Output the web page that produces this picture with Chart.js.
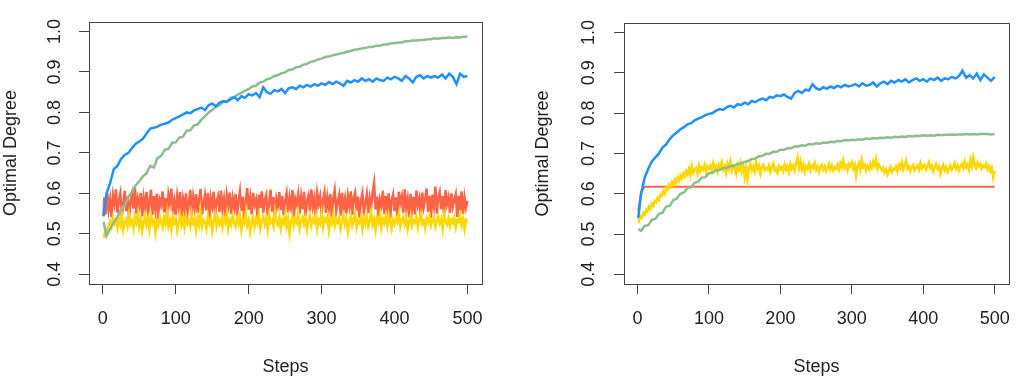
<!DOCTYPE html>
<html>
<head>
<meta charset="utf-8">
<script src="https://cdn.jsdelivr.net/npm/chart.js@4.4.1/dist/chart.umd.min.js"></script>
<style>
html, body { margin: 0; padding: 0; background: #fff; }
#wrap { position: relative; width: 1024px; height: 383px; }
.panel { position: absolute; top: 0; width: 512px; height: 383px; }
</style>
</head>
<body>
<div id="wrap">
  <div class="panel" style="left:0"><canvas id="chartLeft" width="512" height="383"></canvas></div>
  <div class="panel" style="left:512px"><canvas id="chartRight" width="512" height="383"></canvas></div>
</div>
<script>
// steps sampled every 5 for the smoother curves
const steps = [1,
  5, 10, 15, 20, 25, 30, 35, 40, 45, 50,
  55, 60, 65, 70, 75, 80, 85, 90, 95, 100,
  105, 110, 115, 120, 125, 130, 135, 140, 145, 150,
  155, 160, 165, 170, 175, 180, 185, 190, 195, 200,
  205, 210, 215, 220, 225, 230, 235, 240, 245, 250,
  255, 260, 265, 270, 275, 280, 285, 290, 295, 300,
  305, 310, 315, 320, 325, 330, 335, 340, 345, 350,
  355, 360, 365, 370, 375, 380, 385, 390, 395, 400,
  405, 410, 415, 420, 425, 430, 435, 440, 445, 450,
  455, 460, 465, 470, 475, 480, 485, 490, 495, 500];

// steps sampled every 2 for the noisy bands
const stepsDense = [1,
  2, 4, 6, 8, 10, 12, 14, 16, 18, 20,
  22, 24, 26, 28, 30, 32, 34, 36, 38, 40,
  42, 44, 46, 48, 50, 52, 54, 56, 58, 60,
  62, 64, 66, 68, 70, 72, 74, 76, 78, 80,
  82, 84, 86, 88, 90, 92, 94, 96, 98, 100,
  102, 104, 106, 108, 110, 112, 114, 116, 118, 120,
  122, 124, 126, 128, 130, 132, 134, 136, 138, 140,
  142, 144, 146, 148, 150, 152, 154, 156, 158, 160,
  162, 164, 166, 168, 170, 172, 174, 176, 178, 180,
  182, 184, 186, 188, 190, 192, 194, 196, 198, 200,
  202, 204, 206, 208, 210, 212, 214, 216, 218, 220,
  222, 224, 226, 228, 230, 232, 234, 236, 238, 240,
  242, 244, 246, 248, 250, 252, 254, 256, 258, 260,
  262, 264, 266, 268, 270, 272, 274, 276, 278, 280,
  282, 284, 286, 288, 290, 292, 294, 296, 298, 300,
  302, 304, 306, 308, 310, 312, 314, 316, 318, 320,
  322, 324, 326, 328, 330, 332, 334, 336, 338, 340,
  342, 344, 346, 348, 350, 352, 354, 356, 358, 360,
  362, 364, 366, 368, 370, 372, 374, 376, 378, 380,
  382, 384, 386, 388, 390, 392, 394, 396, 398, 400,
  402, 404, 406, 408, 410, 412, 414, 416, 418, 420,
  422, 424, 426, 428, 430, 432, 434, 436, 438, 440,
  442, 444, 446, 448, 450, 452, 454, 456, 458, 460,
  462, 464, 466, 468, 470, 472, 474, 476, 478, 480,
  482, 484, 486, 488, 490, 492, 494, 496, 498, 500];

const xTicks = [0, 100, 200, 300, 400, 500];
const yTicks = [0.4, 0.5, 0.6, 0.7, 0.8, 0.9, 1.0];

// left panel
const leftBlue = [0.543,
  0.600, 0.625, 0.660, 0.668, 0.685, 0.695, 0.700, 0.712, 0.722, 0.728,
  0.735, 0.748, 0.760, 0.762, 0.765, 0.770, 0.772, 0.775, 0.782, 0.786,
  0.790, 0.795, 0.800, 0.798, 0.805, 0.808, 0.812, 0.806, 0.818, 0.822,
  0.815, 0.824, 0.828, 0.826, 0.832, 0.838, 0.830, 0.840, 0.836, 0.845,
  0.842, 0.848, 0.838, 0.862, 0.850, 0.846, 0.855, 0.852, 0.858, 0.848,
  0.860, 0.862, 0.858, 0.866, 0.862, 0.868, 0.864, 0.870, 0.866, 0.872,
  0.868, 0.875, 0.870, 0.876, 0.872, 0.866, 0.878, 0.874, 0.880, 0.876,
  0.884, 0.878, 0.882, 0.876, 0.884, 0.880, 0.878, 0.886, 0.882, 0.888,
  0.884, 0.878, 0.890, 0.884, 0.874, 0.888, 0.892, 0.884, 0.890, 0.886,
  0.890, 0.886, 0.894, 0.884, 0.896, 0.888, 0.870, 0.896, 0.888, 0.890];

const leftGreen = [0.530,
  0.495, 0.512, 0.528, 0.542, 0.562, 0.570, 0.592, 0.603, 0.620, 0.630,
  0.642, 0.650, 0.668, 0.664, 0.688, 0.692, 0.708, 0.710, 0.725, 0.726,
  0.738, 0.740, 0.755, 0.756, 0.768, 0.770, 0.782, 0.790, 0.800, 0.806,
  0.814, 0.818, 0.826, 0.828, 0.836, 0.838, 0.844, 0.848, 0.854, 0.858,
  0.864, 0.866, 0.874, 0.876, 0.882, 0.884, 0.890, 0.892, 0.897, 0.899,
  0.905, 0.906, 0.912, 0.913, 0.918, 0.920, 0.925, 0.927, 0.931, 0.933,
  0.937, 0.938, 0.941, 0.943, 0.946, 0.947, 0.950, 0.952, 0.955, 0.956,
  0.958, 0.959, 0.962, 0.962, 0.965, 0.965, 0.968, 0.968, 0.971, 0.971,
  0.973, 0.973, 0.976, 0.976, 0.978, 0.978, 0.979, 0.979, 0.981, 0.981,
  0.983, 0.982, 0.984, 0.984, 0.985, 0.984, 0.986, 0.985, 0.987, 0.987];

// on stepsDense
const leftRed = [0.545,
  0.590, 0.548, 0.602, 0.560, 0.585, 0.541, 0.596, 0.575, 0.610, 0.552,
  0.583, 0.600, 0.545, 0.571, 0.606, 0.556, 0.592, 0.538, 0.580, 0.598,
  0.562, 0.615, 0.549, 0.587, 0.570, 0.601, 0.543, 0.590, 0.566, 0.604,
  0.551, 0.578, 0.609, 0.547, 0.593, 0.561, 0.599, 0.537, 0.584, 0.572,
  0.605, 0.553, 0.588, 0.542, 0.597, 0.576, 0.612, 0.558, 0.581, 0.546,
  0.594, 0.568, 0.603, 0.540, 0.586, 0.562, 0.600, 0.550, 0.577, 0.608,
  0.544, 0.591, 0.565, 0.598, 0.552, 0.583, 0.611, 0.548, 0.574, 0.596,
  0.558, 0.601, 0.539, 0.589, 0.569, 0.604, 0.547, 0.580, 0.593, 0.554,
  0.607, 0.563, 0.586, 0.541, 0.595, 0.571, 0.602, 0.549, 0.588, 0.566,
  0.599, 0.543, 0.582, 0.606, 0.557, 0.592, 0.536, 0.579, 0.613, 0.560,
  0.590, 0.548, 0.601, 0.572, 0.585, 0.540, 0.597, 0.564, 0.605, 0.551,
  0.583, 0.596, 0.545, 0.578, 0.609, 0.555, 0.591, 0.538, 0.587, 0.570,
  0.603, 0.559, 0.594, 0.546, 0.581, 0.600, 0.553, 0.589, 0.567, 0.608,
  0.542, 0.586, 0.573, 0.598, 0.550, 0.592, 0.561, 0.604, 0.544, 0.582,
  0.595, 0.556, 0.610, 0.568, 0.588, 0.539, 0.600, 0.575, 0.593, 0.548,
  0.584, 0.603, 0.552, 0.590, 0.565, 0.598, 0.541, 0.587, 0.608, 0.557,
  0.579, 0.596, 0.545, 0.601, 0.562, 0.586, 0.550, 0.594, 0.570, 0.605,
  0.547, 0.589, 0.602, 0.558, 0.592, 0.540, 0.583, 0.600, 0.553, 0.576,
  0.598, 0.551, 0.588, 0.566, 0.603, 0.626, 0.560, 0.592, 0.544, 0.585,
  0.571, 0.606, 0.549, 0.594, 0.563, 0.600, 0.538, 0.582, 0.597, 0.556,
  0.590, 0.545, 0.604, 0.577, 0.593, 0.552, 0.610, 0.565, 0.586, 0.541,
  0.599, 0.560, 0.591, 0.548, 0.607, 0.572, 0.588, 0.543, 0.602, 0.566,
  0.585, 0.612, 0.554, 0.594, 0.539, 0.597, 0.570, 0.617, 0.550, 0.589,
  0.603, 0.561, 0.593, 0.545, 0.608, 0.574, 0.590, 0.552, 0.600, 0.567,
  0.584, 0.598, 0.542, 0.594, 0.558, 0.605, 0.549, 0.590, 0.565, 0.582];

// on stepsDense
const leftYellow = [0.490,
  0.495, 0.512, 0.505, 0.522, 0.530, 0.518, 0.540, 0.525, 0.532, 0.515,
  0.538, 0.522, 0.545, 0.510, 0.528, 0.536, 0.519, 0.548, 0.524, 0.533,
  0.514, 0.541, 0.527, 0.550, 0.517, 0.535, 0.508, 0.529, 0.544, 0.521,
  0.537, 0.512, 0.546, 0.526, 0.533, 0.503, 0.531, 0.520, 0.543, 0.528,
  0.516, 0.539, 0.524, 0.552, 0.519, 0.534, 0.511, 0.541, 0.527, 0.536,
  0.509, 0.530, 0.547, 0.522, 0.538, 0.515, 0.544, 0.525, 0.533, 0.518,
  0.549, 0.527, 0.536, 0.510, 0.540, 0.523, 0.556, 0.519, 0.534, 0.529,
  0.512, 0.545, 0.526, 0.537, 0.507, 0.531, 0.548, 0.520, 0.539, 0.524,
  0.535, 0.516, 0.542, 0.528, 0.550, 0.513, 0.533, 0.522, 0.546, 0.530,
  0.518, 0.539, 0.525, 0.544, 0.510, 0.536, 0.527, 0.552, 0.521, 0.534,
  0.505, 0.529, 0.541, 0.517, 0.538, 0.526, 0.548, 0.514, 0.532, 0.543,
  0.523, 0.537, 0.511, 0.546, 0.528, 0.535, 0.519, 0.555, 0.530, 0.522,
  0.540, 0.513, 0.534, 0.526, 0.549, 0.518, 0.538, 0.502, 0.531, 0.544,
  0.520, 0.536, 0.527, 0.551, 0.515, 0.533, 0.542, 0.524, 0.539, 0.510,
  0.532, 0.547, 0.521, 0.537, 0.529, 0.545, 0.512, 0.535, 0.526, 0.550,
  0.517, 0.538, 0.530, 0.543, 0.509, 0.534, 0.525, 0.548, 0.519, 0.536,
  0.528, 0.541, 0.514, 0.532, 0.546, 0.523, 0.537, 0.506, 0.530, 0.544,
  0.521, 0.535, 0.549, 0.516, 0.533, 0.527, 0.542, 0.513, 0.538, 0.525,
  0.544, 0.518, 0.531, 0.553, 0.522, 0.536, 0.510, 0.540, 0.528, 0.547,
  0.515, 0.537, 0.526, 0.542, 0.520, 0.548, 0.531, 0.512, 0.535, 0.524,
  0.539, 0.529, 0.550, 0.518, 0.534, 0.543, 0.522, 0.537, 0.511, 0.530,
  0.546, 0.520, 0.533, 0.527, 0.541, 0.516, 0.536, 0.549, 0.525, 0.532,
  0.514, 0.538, 0.528, 0.545, 0.521, 0.534, 0.540, 0.517, 0.531, 0.543,
  0.526, 0.537, 0.512, 0.548, 0.530, 0.523, 0.539, 0.519, 0.535, 0.527,
  0.541, 0.516, 0.533, 0.529, 0.546, 0.521, 0.537, 0.512, 0.534, 0.528];

// right panel
const rightBlue = [0.540,
  0.600, 0.640, 0.662, 0.680, 0.690, 0.700, 0.715, 0.722, 0.735, 0.745,
  0.752, 0.760, 0.765, 0.772, 0.775, 0.782, 0.786, 0.790, 0.795, 0.798,
  0.800, 0.806, 0.810, 0.808, 0.815, 0.818, 0.814, 0.822, 0.820, 0.826,
  0.822, 0.830, 0.827, 0.833, 0.836, 0.832, 0.840, 0.838, 0.844, 0.842,
  0.846, 0.840, 0.836, 0.850, 0.855, 0.850, 0.858, 0.856, 0.872, 0.862,
  0.858, 0.864, 0.860, 0.866, 0.862, 0.868, 0.864, 0.870, 0.866, 0.868,
  0.872, 0.866, 0.874, 0.868, 0.870, 0.876, 0.866, 0.874, 0.878, 0.872,
  0.880, 0.876, 0.882, 0.878, 0.884, 0.876, 0.882, 0.886, 0.880, 0.884,
  0.878, 0.886, 0.882, 0.888, 0.880, 0.886, 0.884, 0.890, 0.886, 0.892,
  0.905, 0.888, 0.894, 0.886, 0.898, 0.882, 0.896, 0.888, 0.880, 0.890];

const rightGreen = [0.512,
  0.508, 0.520, 0.522, 0.535, 0.538, 0.550, 0.553, 0.568, 0.570, 0.584,
  0.588, 0.600, 0.603, 0.614, 0.616, 0.627, 0.630, 0.640, 0.641, 0.651,
  0.652, 0.658, 0.659, 0.664, 0.664, 0.669, 0.669, 0.674, 0.675, 0.679,
  0.681, 0.686, 0.687, 0.693, 0.694, 0.699, 0.699, 0.704, 0.704, 0.709,
  0.709, 0.713, 0.713, 0.717, 0.717, 0.720, 0.719, 0.723, 0.722, 0.725,
  0.724, 0.727, 0.726, 0.729, 0.728, 0.731, 0.730, 0.733, 0.732, 0.734,
  0.733, 0.735, 0.734, 0.737, 0.736, 0.738, 0.737, 0.739, 0.738, 0.740,
  0.739, 0.741, 0.740, 0.742, 0.741, 0.743, 0.742, 0.744, 0.743, 0.745,
  0.744, 0.745, 0.744, 0.746, 0.745, 0.746, 0.746, 0.747, 0.746, 0.747,
  0.747, 0.748, 0.747, 0.748, 0.747, 0.748, 0.748, 0.748, 0.747, 0.748];

// on stepsDense
const rightYellow = [0.530,
  0.535, 0.545, 0.540, 0.552, 0.548, 0.560, 0.556, 0.568, 0.562, 0.575,
  0.570, 0.582, 0.578, 0.590, 0.585, 0.598, 0.594, 0.606, 0.600, 0.615,
  0.610, 0.622, 0.616, 0.628, 0.621, 0.634, 0.626, 0.640, 0.632, 0.645,
  0.638, 0.650, 0.642, 0.656, 0.648, 0.662, 0.646, 0.668, 0.652, 0.660,
  0.664, 0.650, 0.670, 0.656, 0.666, 0.660, 0.672, 0.654, 0.668, 0.662,
  0.670, 0.658, 0.676, 0.662, 0.668, 0.655, 0.672, 0.664, 0.678, 0.660,
  0.668, 0.652, 0.674, 0.661, 0.680, 0.658, 0.670, 0.664, 0.650, 0.672,
  0.660, 0.676, 0.655, 0.668, 0.642, 0.665, 0.636, 0.662, 0.674, 0.658,
  0.668, 0.655, 0.678, 0.662, 0.670, 0.650, 0.666, 0.672, 0.658, 0.664,
  0.660, 0.670, 0.654, 0.666, 0.675, 0.658, 0.662, 0.652, 0.668, 0.660,
  0.666, 0.656, 0.672, 0.660, 0.668, 0.654, 0.674, 0.662, 0.670, 0.658,
  0.676, 0.690, 0.664, 0.680, 0.660, 0.672, 0.655, 0.668, 0.662, 0.674,
  0.658, 0.670, 0.664, 0.676, 0.660, 0.668, 0.654, 0.666, 0.672, 0.660,
  0.668, 0.656, 0.664, 0.674, 0.660, 0.670, 0.658, 0.666, 0.662, 0.672,
  0.660, 0.676, 0.666, 0.682, 0.664, 0.670, 0.658, 0.674, 0.668, 0.678,
  0.662, 0.672, 0.645, 0.668, 0.676, 0.660, 0.684, 0.666, 0.672, 0.658,
  0.668, 0.660, 0.674, 0.664, 0.680, 0.670, 0.686, 0.662, 0.672, 0.666,
  0.658, 0.664, 0.652, 0.660, 0.648, 0.658, 0.666, 0.654, 0.662, 0.660,
  0.668, 0.656, 0.672, 0.664, 0.678, 0.660, 0.670, 0.682, 0.662, 0.668,
  0.656, 0.666, 0.672, 0.658, 0.664, 0.670, 0.660, 0.676, 0.662, 0.668,
  0.672, 0.660, 0.668, 0.678, 0.664, 0.670, 0.656, 0.666, 0.674, 0.662,
  0.668, 0.650, 0.664, 0.672, 0.658, 0.666, 0.654, 0.662, 0.670, 0.660,
  0.666, 0.676, 0.662, 0.670, 0.658, 0.668, 0.674, 0.664, 0.680, 0.666,
  0.672, 0.660, 0.684, 0.668, 0.690, 0.672, 0.664, 0.678, 0.668, 0.674,
  0.662, 0.670, 0.666, 0.674, 0.660, 0.668, 0.656, 0.664, 0.640, 0.656];

const rightRed = [0.557,
  0.605, 0.617, 0.617, 0.617, 0.617, 0.617, 0.617, 0.617, 0.617, 0.617,
  0.617, 0.617, 0.617, 0.617, 0.617, 0.617, 0.617, 0.617, 0.617, 0.617,
  0.617, 0.617, 0.617, 0.617, 0.617, 0.617, 0.617, 0.617, 0.617, 0.617,
  0.617, 0.617, 0.617, 0.617, 0.617, 0.617, 0.617, 0.617, 0.617, 0.617,
  0.617, 0.617, 0.617, 0.617, 0.617, 0.617, 0.617, 0.617, 0.617, 0.617,
  0.617, 0.617, 0.617, 0.617, 0.617, 0.617, 0.617, 0.617, 0.617, 0.617,
  0.617, 0.617, 0.617, 0.617, 0.617, 0.617, 0.617, 0.617, 0.617, 0.617,
  0.617, 0.617, 0.617, 0.617, 0.617, 0.617, 0.617, 0.617, 0.617, 0.617,
  0.617, 0.617, 0.617, 0.617, 0.617, 0.617, 0.617, 0.617, 0.617, 0.617,
  0.617, 0.617, 0.617, 0.617, 0.617, 0.617, 0.617, 0.617, 0.617, 0.617];

const textColor = '#222';
const axisColor = '#444';

Chart.defaults.font.family = '"Liberation Sans", Arial, sans-serif';
Chart.defaults.font.size = 18;
Chart.defaults.color = textColor;

// R-style box around the plotting region
const boxPlugin = {
  id: 'box',
  afterDraw(chart) {
    const a = chart.chartArea, ctx = chart.ctx;
    ctx.save();
    ctx.strokeStyle = axisColor;
    ctx.lineWidth = 1;
    ctx.strokeRect(Math.round(a.left) + 0.5, Math.round(a.top) + 0.5,
      Math.round(a.right - a.left), Math.round(a.bottom - a.top));
    ctx.restore();
  }
};

function line(xs, vals, color, width) {
  return {
    data: xs.map((s, i) => ({ x: s, y: vals[i] })),
    borderColor: color,
    borderWidth: width,
    pointRadius: 0,
    tension: 0,
    fill: false
  };
}

function makePanel(id, series, geo) {
  new Chart(document.getElementById(id), {
    type: 'line',
    data: {
      // first dataset is painted on top
      datasets: [
        line(steps, series.blue, '#1E90FF', 2.5),
        line(steps, series.green, '#8FBC8F', 2.5),
        line(series.yellowX, series.yellow, '#FFD700', 2.5),
        line(series.redX, series.red, '#FF6347', geo.redWidth)
      ]
    },
    plugins: [boxPlugin],
    options: {
      responsive: false,
      animation: false,
      events: [],
      layout: { padding: { top: 10, right: geo.padRight, left: 0, bottom: 0 } },
      plugins: { legend: { display: false }, tooltip: { enabled: false } },
      scales: {
        x: {
          type: 'linear',
          min: -18.96,
          max: 519.96,
          afterBuildTicks: s => { s.ticks = xTicks.map(v => ({ value: v })); },
          afterFit: s => { s.height = 99; },
          border: { display: false },
          grid: { drawOnChartArea: false, drawTicks: true, tickLength: 10, color: axisColor },
          ticks: { padding: 14, color: textColor, maxRotation: 0 },
          title: { display: true, text: 'Steps', color: textColor, padding: { top: 0, bottom: 5 } }
        },
        y: {
          type: 'linear',
          min: 0.376,
          max: 1.024,
          afterBuildTicks: s => { s.ticks = yTicks.map(v => ({ value: v })); },
          afterFit: s => { s.width = geo.yWidth; },
          border: { display: false },
          grid: { drawOnChartArea: false, drawTicks: true, tickLength: 10, color: axisColor },
          ticks: {
            minRotation: 90, maxRotation: 90, crossAlign: 'center',
            padding: geo.yTickPad, color: textColor,
            callback: v => v.toFixed(1)
          },
          title: { display: true, text: 'Optimal Degree', color: textColor, padding: { top: geo.yTitlePad, bottom: 0 } }
        }
      }
    }
  });
}

makePanel('chartLeft',
  { blue: leftBlue, green: leftGreen, yellow: leftYellow, yellowX: stepsDense, red: leftRed, redX: stepsDense },
  { yWidth: 89, padRight: 30, yTickPad: 11, yTitlePad: 0, redWidth: 2.5 });

makePanel('chartRight',
  { blue: rightBlue, green: rightGreen, yellow: rightYellow, yellowX: stepsDense, red: rightRed, redX: steps },
  { yWidth: 112, padRight: 9, yTickPad: 12, yTitlePad: 20, redWidth: 2 });
</script>
</body>
</html>
